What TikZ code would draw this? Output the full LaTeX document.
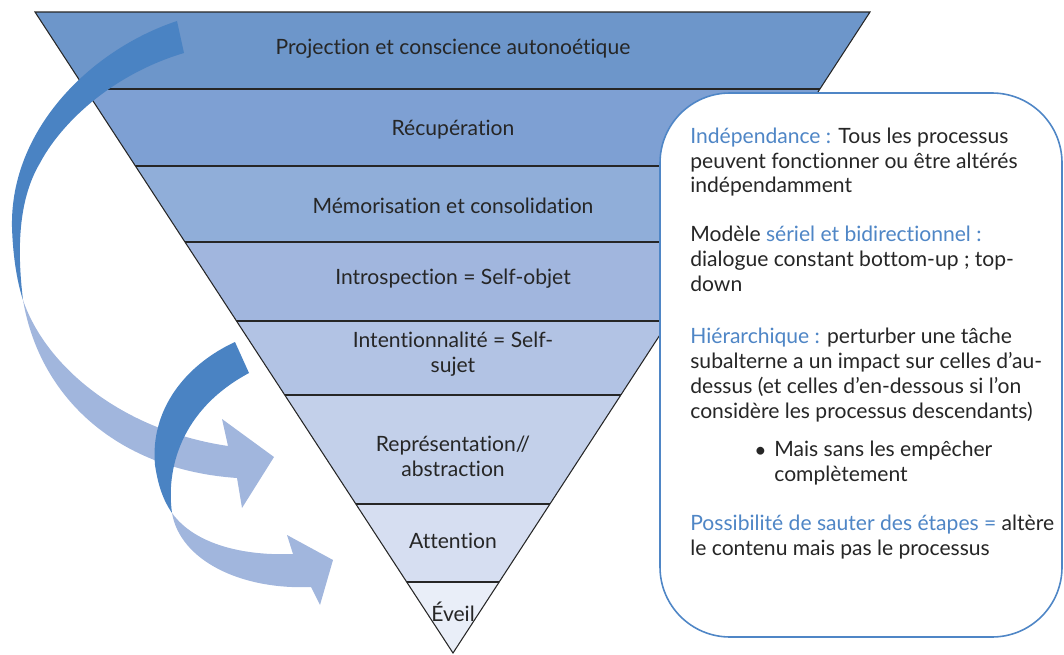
\documentclass[tikz,border=0pt]{standalone}
\usepackage{fontspec}
\setmainfont{Lato}[Ligatures={NoCommon}]
\usepackage{tikz}
\usetikzlibrary{positioning}
\definecolor{lvla}{HTML}{6D96CA}
\definecolor{lvlb}{HTML}{7EA0D3}
\definecolor{lvlc}{HTML}{90AED9}
\definecolor{lvld}{HTML}{A1B6DE}
\definecolor{lvle}{HTML}{B2C3E4}
\definecolor{lvlf}{HTML}{C3D0EA}
\definecolor{lvlg}{HTML}{D6DEF1}
\definecolor{lvlh}{HTML}{E9EEF8}
\definecolor{txt}{HTML}{262626}
\definecolor{blu}{HTML}{4F86C6}
\definecolor{darkarr}{HTML}{4A83C3}
\definecolor{lightarr}{HTML}{A1B6DD}
\newcommand{\bluetxt}[1]{\textcolor{blu}{#1}}
\tikzset{lbl/.style={font=\fontsize{12}{14.2}\selectfont,text=txt,align=center,inner sep=0pt},
  para/.style={font=\fontsize{12}{14.2}\selectfont,text=txt,align=left,anchor=base west,inner sep=0pt},
  sep/.style={line width=0.85pt,draw=black!85},
  edge/.style={line width=0.6pt,draw=black!85},
  infobox/.style={draw=blu,line width=0.9pt,fill=white,rounded corners=1.4cm},
  arrdark/.style={fill=darkarr},
  arrlight/.style={fill=lightarr}}

\begin{document}
\begin{tikzpicture}[x=0.02cm,y=-0.02cm]
    \useasboundingbox (0,0) rectangle (1064,655);
    \coordinate (tl) at (35,12);
    \coordinate (tr) at (870,12);
    \coordinate (ap) at (453,653);

    \begin{scope}
        \clip (tl) -- (tr) -- (ap) -- cycle;
        \foreach \ya/\yb/\col in {12/89/lvla,89/166/lvlb,166/242/lvlc,242/321/lvld,321/395/lvle,395/504/lvlf,504/582/lvlg,582/655/lvlh}
            \fill[\col] (0,\ya) rectangle (1064,\yb);
        \foreach \y in {89,166,242,321,395,504,582}
            \draw[sep] (0,\y) -- (1064,\y);
    \end{scope}
    \draw[edge] (tl) -- (tr) -- (ap) -- cycle;

    \node[lbl] (proj) at (453,49) {Projection et conscience autonoétique};
    \node[lbl] (recup) at (453,130) {Récupération};
    \node[lbl] (memo) at (453,206) {Mémorisation et consolidation};
    \node[lbl] (intro) at (453,279) {Introspection = Self-objet};
    \node[lbl] (inten) at (453,354) {Intentionnalité = Self-\\sujet};
    \node[lbl] (repr) at (453,456) {Représentation//\\abstraction};
    \node[lbl] (att) at (453,541) {Attention};
    \node[lbl] (eveil) at (453,612) {Éveil};

    \draw[infobox] (660,93) rectangle (1062,637);
    \node[para] (indep) at (690,193) {\bluetxt{Indépendance :} Tous les processus\\peuvent fonctionner ou être altérés\\indépendamment};
    \node[para] (serie) at (690,291) {Modèle \bluetxt{sériel et bidirectionnel :}\\dialogue constant bottom-up ; top-\\down};
    \node[para] (hier) at (690,418) {\bluetxt{Hiérarchique :} perturber une tâche\\subalterne a un impact sur celles d’au-\\dessus (et celles d’en-dessous si l’on\\considère les processus descendants)};
    \node[para] (bul) at (754,457) {\textbullet};
    \node[para] (mais) at (774,481) {Mais sans les empêcher\\complètement};
    \node[para] (saut) at (690,555) {\bluetxt{Possibilité de sauter des étapes =} altère\\le contenu mais pas le processus};

    \fill[arrdark] (177,21) .. controls (90,50) and (10,130) .. (12,227) .. controls (13,260) and (18,285) .. (23,300)
        .. controls (17,250) and (18,200) .. (40,163) .. controls (60,125) and (110,75) .. (184,53) -- cycle;
    \fill[arrlight] (23,300) .. controls (45,365) and (120,430) .. (228,446) -- (222,419) -- (274,457) -- (242,508) -- (237,478)
        .. controls (120,470) and (40,400) .. (23,300) -- cycle;
    \fill[arrlight] (172,513) .. controls (195,545) and (245,556) .. (293,554) -- (287,535) -- (333,560) -- (320,605) -- (311,587)
        .. controls (240,590) and (180,560) .. (172,513) -- cycle;
    \fill[arrdark] (235,342) .. controls (185,365) and (150,410) .. (155,465) .. controls (158,485) and (163,500) .. (172,513)
        .. controls (166,470) and (180,410) .. (249,373) -- cycle;
\end{tikzpicture}
\end{document}
